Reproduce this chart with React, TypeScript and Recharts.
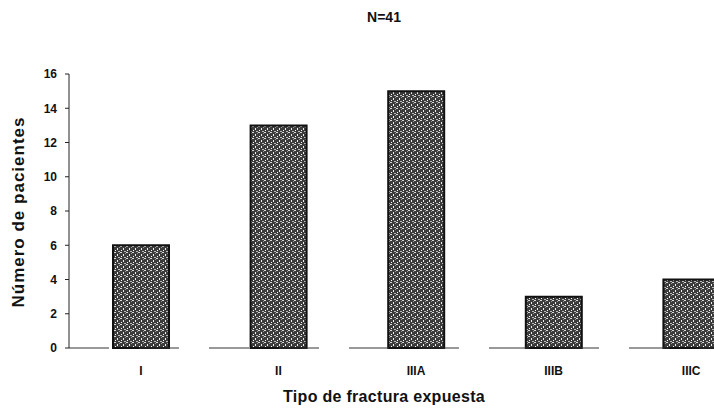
import React from "react";
import { BarChart, Bar, XAxis, YAxis } from "recharts";

const categories = ["I", "II", "IIIA", "IIIB", "IIIC"];
const patients = [6, 13, 15, 3, 4];
const yTicks = [0, 2, 4, 6, 8, 10, 12, 14, 16];

const data = categories.map((tipo, i) => ({ tipo, pacientes: patients[i] }));

const FONT = "'Liberation Sans', Arial, sans-serif";

export default function App() {
  return (
    <div
      style={{
        position: "fixed",
        left: 0,
        top: 0,
        width: 714,
        height: 413,
        overflow: "hidden",
        background: "#fff",
        fontFamily: FONT,
      }}
    >
      <div
        style={{
          position: "absolute",
          left: 334,
          width: 100,
          top: 9,
          textAlign: "center",
          fontSize: 14,
          fontWeight: "bold",
          color: "#111",
        }}
      >
        N=41
      </div>
      <div
        style={{
          position: "absolute",
          left: 19,
          top: 212,
          transform: "translate(-50%, -50%) rotate(-90deg)",
          whiteSpace: "nowrap",
          fontSize: 17,
          letterSpacing: 1,
          fontWeight: "bold",
          color: "#111",
        }}
      >
        Número de pacientes
      </div>
      <div
        style={{
          position: "absolute",
          left: 234,
          width: 300,
          top: 388,
          textAlign: "center",
          whiteSpace: "nowrap",
          fontSize: 16,
          fontWeight: "bold",
          letterSpacing: 0.3,
          color: "#111",
        }}
      >
        Tipo de fractura expuesta
      </div>
      <BarChart
        width={760}
        height={413}
        data={data}
        margin={{ top: 74, right: 0, bottom: 0, left: 0 }}
        barSize={56}
      >
        <defs>
          <pattern id="stipple" width="6" height="6" patternUnits="userSpaceOnUse">
            <rect width="6" height="6" fill="#3c3c3c" />
            <rect x="0" y="0" width="2" height="1" fill="#d8d8d8" />
            <rect x="3" y="2" width="1" height="2" fill="#eeeeee" />
            <rect x="4" y="5" width="2" height="1" fill="#bbbbbb" />
            <rect x="1" y="4" width="1" height="1" fill="#ffffff" />
            <rect x="5" y="1" width="1" height="1" fill="#999999" />
          </pattern>
        </defs>
        <XAxis
          dataKey="tipo"
          height={65}
          padding={{ left: 3, right: 0 }}
          axisLine={{ stroke: "#333", strokeDasharray: "40 30" }}
          tickLine={false}
          tickSize={0}
          tickMargin={18}
          tick={{ fontSize: 12, fontWeight: "bold", fill: "#111", fontFamily: FONT }}
          interval={0}
        />
        <YAxis
          width={69}
          domain={[0, 16]}
          ticks={yTicks}
          interval={0}
          axisLine={{ stroke: "#222" }}
          tickLine={{ stroke: "#222" }}
          tickSize={4}
          tickMargin={8}
          tick={{ fontSize: 12, fontWeight: "bold", fill: "#111", fontFamily: FONT }}
        />
        <Bar
          dataKey="pacientes"
          fill="url(#stipple)"
          stroke="#111"
          strokeWidth={2}
          isAnimationActive={false}
        />
      </BarChart>
    </div>
  );
}
